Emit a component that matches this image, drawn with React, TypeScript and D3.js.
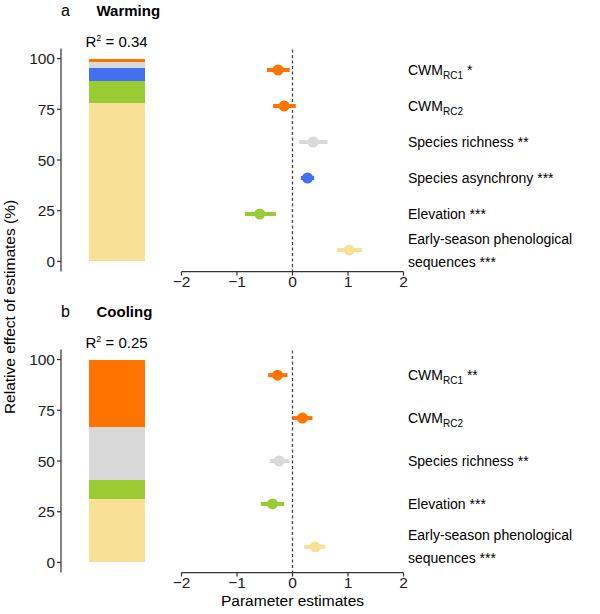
import React, { useEffect } from "react";
import * as d3 from "d3";

// Warming model (panel a)
const warmingTerms = ["RC1", "RC2", "richness", "asynchrony", "elevation", "early"];
const warmingStars = ["*", "", "**", "***", "***", "***"];
const warmingEstimate = [-0.26, -0.15, 0.37, 0.27, -0.59, 1.02];
const warmingLower = [-0.46, -0.35, 0.12, 0.15, -0.86, 0.8];
const warmingUpper = [-0.05, 0.06, 0.63, 0.39, -0.3, 1.25];
const warmingShare = [1.0, 0.75, 2.8, 6.7, 10.6, 78.15];

// Cooling model (panel b)
const coolingTerms = ["RC1", "RC2", "richness", "elevation", "early"];
const coolingStars = ["**", "", "**", "***", "***"];
const coolingEstimate = [-0.27, 0.18, -0.24, -0.36, 0.41];
const coolingLower = [-0.44, 0.0, -0.41, -0.57, 0.21];
const coolingUpper = [-0.09, 0.36, -0.06, -0.15, 0.59];
const coolingShare = [18.5, 14.6, 26.4, 9.0, 31.5];

const shareTicks = [0, 25, 50, 75, 100];
const estimateTicks = [-2, -1, 0, 1, 2];

const termNames: Record<string, string> = {
  richness: "Species richness",
  asynchrony: "Species asynchrony",
  elevation: "Elevation",
};

const termColors: Record<string, string> = {
  RC1: "#FF7300",
  RC2: "#FF7300",
  richness: "#D9D9D9",
  asynchrony: "#4170F0",
  elevation: "#99CC33",
  early: "#F8E096",
};

const FONT = "'Liberation Sans', Arial, sans-serif";
const AXIS = "#333";

interface PanelProps {
  offset: number;
  letter: string;
  title: string;
  r2: string;
  terms: string[];
  stars: string[];
  estimate: number[];
  lower: number[];
  upper: number[];
  share: number[];
}

const TermLabel = ({ term, stars, x, y }: { term: string; stars: string; x: number; y: number }) => {
  if (term === "RC1" || term === "RC2") {
    return (
      <text x={x} y={y} dy="0.35em" fontSize={14}>
        CWM
        <tspan fontSize={10} dy={4}>{term}</tspan>
        {stars && <tspan dy={-4}>{" " + stars}</tspan>}
      </text>
    );
  }
  if (term === "early") {
    return (
      <text x={x} y={y} fontSize={14}>
        <tspan x={x} dy={-6.5}>Early-season phenological</tspan>
        <tspan x={x} dy={23}>{"sequences " + stars}</tspan>
      </text>
    );
  }
  return (
    <text x={x} y={y} dy="0.35em" fontSize={14}>
      {termNames[term] + (stars ? " " + stars : "")}
    </text>
  );
};

const Panel = ({ offset, letter, title, r2, terms, stars, estimate, lower, upper, share }: PanelProps) => {
  const top = offset + 48.4;
  const bottom = offset + 271.6;

  // stacked relative-effect bar
  const yShare = d3.scaleLinear().domain([-5, 105]).range([bottom, top]);
  const barX0 = 88.5;
  const barX1 = 145;
  const order = d3.range(terms.length).reverse();
  let acc = 0;
  const segments = order.map((i) => {
    const y0 = acc;
    acc += share[i];
    return { term: terms[i], y0, y1: acc };
  });

  // forest plot
  const x = d3.scaleLinear().domain([-2, 2]).range([181.5, 403.5]);
  const row = d3.scalePoint<string>().domain(terms).range([top, bottom]).padding(0.6);

  return (
    <g fontFamily={FONT}>
      <text x={61} y={offset + 16} fontSize={16}>{letter}</text>
      <text x={96.5} y={offset + 16} fontSize={15} fontWeight="bold">{title}</text>
      <text x={116.5} y={offset + 46.5} fontSize={15} textAnchor="middle">
        R<tspan fontSize={9} dy={-6}>2</tspan>
        <tspan dy={6}>{" = " + r2}</tspan>
      </text>

      {segments.map((s) => (
        <rect
          key={s.term}
          x={barX0}
          width={barX1 - barX0}
          y={yShare(s.y1)}
          height={yShare(s.y0) - yShare(s.y1)}
          fill={termColors[s.term]}
          shapeRendering="crispEdges"
        />
      ))}

      <line x1={61} x2={61} y1={top} y2={bottom} stroke={AXIS} strokeWidth={1.2} />
      {shareTicks.map((t) => (
        <g key={t}>
          <line x1={57} x2={61} y1={yShare(t)} y2={yShare(t)} stroke={AXIS} strokeWidth={1.2} />
          <text x={55} y={yShare(t)} dy="0.36em" textAnchor="end" fontSize={15.5} fill="#222">
            {t}
          </text>
        </g>
      ))}

      <line x1={x(0)} x2={x(0)} y1={top + 1} y2={bottom} stroke="#444" strokeWidth={1.3} strokeDasharray="3,2.5" />
      <line x1={x(-2)} x2={x(2)} y1={bottom} y2={bottom} stroke={AXIS} strokeWidth={1.2} />
      {estimateTicks.map((t) => (
        <g key={t}>
          <line x1={x(t)} x2={x(t)} y1={bottom} y2={bottom + 4} stroke={AXIS} strokeWidth={1.2} />
          <text x={x(t)} y={bottom + 15.5} textAnchor="middle" fontSize={15.5} fill="#222">
            {t < 0 ? "\u2212" + Math.abs(t) : t}
          </text>
        </g>
      ))}

      {terms.map((term, i) => (
        <g key={term}>
          <line
            x1={x(lower[i])}
            x2={x(upper[i])}
            y1={row(term)}
            y2={row(term)}
            stroke={termColors[term]}
            strokeWidth={4}
          />
          <circle cx={x(estimate[i])} cy={row(term)} r={5.5} fill={termColors[term]} />
          <TermLabel term={term} stars={stars[i]} x={408} y={row(term) as number} />
        </g>
      ))}
    </g>
  );
};

const App = () => {
  useEffect(() => {
    document.body.style.margin = "0";
  }, []);

  return (
    <svg width={600} height={614} style={{ display: "block", background: "#fff" }}>
      <Panel
        offset={0}
        letter="a"
        title="Warming"
        r2="0.34"
        terms={warmingTerms}
        stars={warmingStars}
        estimate={warmingEstimate}
        lower={warmingLower}
        upper={warmingUpper}
        share={warmingShare}
      />
      <Panel
        offset={301}
        letter="b"
        title="Cooling"
        r2="0.25"
        terms={coolingTerms}
        stars={coolingStars}
        estimate={coolingEstimate}
        lower={coolingLower}
        upper={coolingUpper}
        share={coolingShare}
      />
      <text
        transform="translate(10,307) rotate(-90)"
        textAnchor="middle"
        dy="0.35em"
        fontSize={15.5}
        fontFamily={FONT}
      >
        Relative effect of estimates (%)
      </text>
      <text x={292.5} y={606} textAnchor="middle" fontSize={15.5} fontFamily={FONT}>
        Parameter estimates
      </text>
    </svg>
  );
};

export default App;
